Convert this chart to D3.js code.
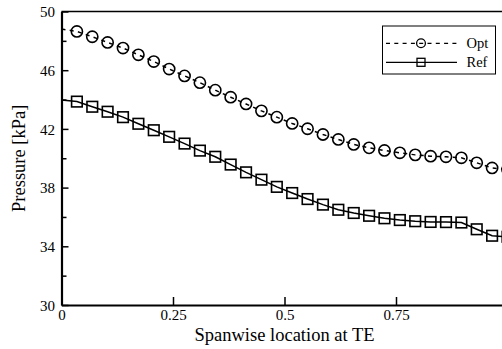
<!DOCTYPE html>
<html>
<head>
<meta charset="utf-8">
<script src="https://cdn.jsdelivr.net/npm/d3@7"></script>
<style>
  html, body { margin: 0; padding: 0; background: #fff; }
  svg { display: block; }
  svg text { font-family: "Liberation Serif", "Times New Roman", "DejaVu Serif", serif; }
</style>
</head>
<body>
<svg id="chart" width="502" height="349"></svg>
<script>
// Spanwise stations along the trailing edge (normalised span)
const spanwise = [0, 0.0345, 0.0690, 0.1034, 0.1379, 0.1724, 0.2069, 0.2414, 0.2759, 0.3103,
                  0.3448, 0.3793, 0.4138, 0.4483, 0.4828, 0.5172, 0.5517, 0.5862, 0.6207, 0.6552,
                  0.6897, 0.7241, 0.7586, 0.7931, 0.8276, 0.8621, 0.8966, 0.9310, 0.9655, 1.0];

// Static pressure at the trailing edge [kPa]
const optPressure = [48.80, 48.64, 48.28, 47.89, 47.51, 47.05, 46.59, 46.08, 45.61, 45.15,
                     44.64, 44.16, 43.70, 43.23, 42.80, 42.37, 42.01, 41.62, 41.28, 40.94,
                     40.71, 40.53, 40.37, 40.23, 40.14, 40.10, 40.03, 39.69, 39.34, 39.23];
const refPressure = [43.97, 43.86, 43.51, 43.17, 42.80, 42.35, 41.91, 41.46, 41.00, 40.52,
                     40.10, 39.57, 39.04, 38.54, 38.05, 37.63, 37.22, 36.84, 36.49, 36.27,
                     36.08, 35.91, 35.79, 35.71, 35.66, 35.65, 35.62, 35.16, 34.72, 34.65];

const xTicks = [0, 0.25, 0.5, 0.75];
const xTickLabels = ["0", "0.25", "0.5", "0.75"];
const yMajorTicks = [30, 34, 38, 42, 46, 50];
const yMinorTicks = [32, 36, 40, 44, 48];

const seriesNames = ["Opt", "Ref"];

const serif = "'Liberation Serif', 'Times New Roman', serif";
const svg = d3.select("#chart");
const plotLeft = 61.5, plotRight = 507.5, plotTop = 11.5, plotBottom = 305;

const x = d3.scaleLinear().domain([0, 1]).range([plotLeft, plotRight]);
const y = d3.scaleLinear().domain([30, 50]).range([plotBottom, plotTop]);

// frame top edge
svg.append("line")
  .attr("x1", plotLeft).attr("x2", plotRight)
  .attr("y1", y(50)).attr("y2", y(50))
  .attr("stroke", "#000").attr("stroke-width", 1.6);

// y axis: major ticks with labels, minor ticks without
const yAxis = svg.append("g")
  .attr("transform", `translate(${plotLeft},0)`)
  .call(d3.axisLeft(y).tickValues(yMajorTicks).tickSizeInner(-7).tickSizeOuter(0)
        .tickPadding(6.5).tickFormat(d3.format("d")));
svg.append("g")
  .attr("transform", `translate(${plotLeft},0)`)
  .call(d3.axisLeft(y).tickValues(yMinorTicks).tickSizeInner(-5).tickSizeOuter(0)
        .tickFormat(""))
  .call(g => g.select(".domain").remove());

// x axis
const xAxis = svg.append("g")
  .attr("transform", `translate(0,${plotBottom})`)
  .call(d3.axisBottom(x).tickValues(xTicks).tickSizeInner(-8).tickSizeOuter(0)
        .tickPadding(4).tickFormat((d, i) => xTickLabels[i]));

svg.selectAll("g").attr("font-family", serif);
svg.selectAll(".domain").attr("stroke-width", 2.2);
svg.selectAll(".tick line").attr("stroke-width", 1.5);
svg.selectAll(".tick text")
  .attr("font-family", serif)
  .attr("font-size", 15).attr("fill", "#000");
yAxis.selectAll(".tick text").attr("dy", "0.34em");

// axis titles
svg.append("text")
  .attr("x", x(0.5)).attr("y", 340.5)
  .attr("text-anchor", "middle")
  .attr("font-family", serif)
  .attr("font-size", 18.5)
  .text("Spanwise location at TE");
svg.append("text")
  .attr("transform", `translate(25,${(plotTop + plotBottom) / 2}) rotate(-90)`)
  .attr("text-anchor", "middle")
  .attr("font-family", serif)
  .attr("font-size", 18.5)
  .text("Pressure [kPa]");

// data series
const line = d3.line().x(d => x(d[0])).y(d => y(d[1]));
const optData = spanwise.map((s, i) => [s, optPressure[i]]);
const refData = spanwise.map((s, i) => [s, refPressure[i]]);

const plot = svg.append("g");
plot.append("path").datum(optData)
  .attr("d", line).attr("fill", "none")
  .attr("stroke", "#000").attr("stroke-width", 1.5)
  .attr("stroke-dasharray", "4,4.3");
plot.append("path").datum(refData)
  .attr("d", line).attr("fill", "none")
  .attr("stroke", "#000").attr("stroke-width", 1.5);

// markers at every station except the root
plot.selectAll("circle.opt").data(optData.slice(1)).enter()
  .append("circle").attr("class", "opt")
  .attr("cx", d => x(d[0])).attr("cy", d => y(d[1])).attr("r", 5.6)
  .attr("fill", "none").attr("stroke", "#000").attr("stroke-width", 1.6);
const sq = 10.6;
plot.selectAll("rect.ref").data(refData.slice(1)).enter()
  .append("rect").attr("class", "ref")
  .attr("x", d => x(d[0]) - sq / 2).attr("y", d => y(d[1]) - sq / 2)
  .attr("width", sq).attr("height", sq)
  .attr("fill", "none").attr("stroke", "#000").attr("stroke-width", 1.6);

// legend
const lg = svg.append("g");
lg.append("rect").attr("x", 382.5).attr("y", 26).attr("width", 113).attr("height", 48)
  .attr("fill", "#fff").attr("stroke", "#000").attr("stroke-width", 1);
const rows = [43.3, 62.3];
seriesNames.forEach((name, i) => {
  const ry = rows[i];
  lg.append("line").attr("x1", 386).attr("x2", 457).attr("y1", ry).attr("y2", ry)
    .attr("stroke", "#000").attr("stroke-width", 1.3)
    .attr("stroke-dasharray", i === 0 ? "4,4.3" : null);
  if (i === 0) {
    lg.append("circle").attr("cx", 421).attr("cy", ry).attr("r", 4.4)
      .attr("fill", "none").attr("stroke", "#000").attr("stroke-width", 1.3);
  } else {
    lg.append("rect").attr("x", 421 - 4).attr("y", ry - 4).attr("width", 8).attr("height", 8)
      .attr("fill", "none").attr("stroke", "#000").attr("stroke-width", 1.3);
  }
  lg.append("text").attr("x", 466.5).attr("y", ry + 5)
    .attr("font-family", serif)
    .attr("font-size", 14.5).text(name);
});
</script>
</body>
</html>
